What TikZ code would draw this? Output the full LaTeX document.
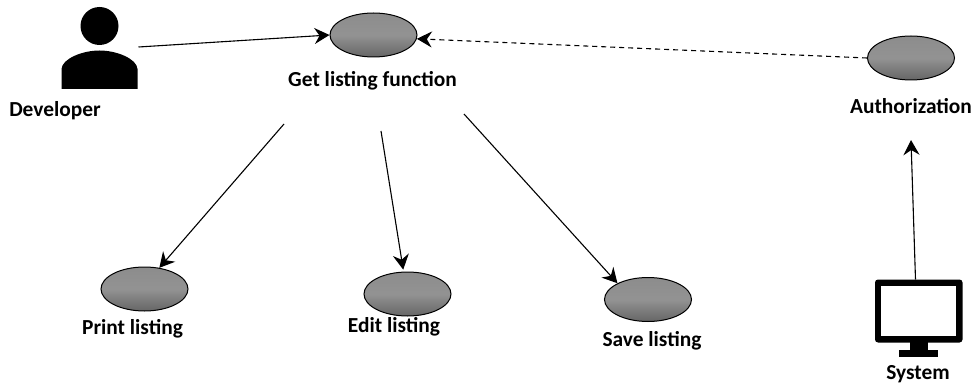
\documentclass[tikz,border=0pt]{standalone}
\usepackage{fontspec}
\setmainfont{Carlito}
\usetikzlibrary{arrows.meta,shapes.geometric}
\tikzset{
  usecase/.style={ellipse,draw=black,line width=1pt,minimum width=87pt,minimum height=44pt,inner sep=0pt,top color=gray!90!white,bottom color=gray!80!black,middle color=gray!85!white},
  lbl/.style={font=\fontsize{21.4pt}{24pt}\selectfont\bfseries,inner sep=0pt,text=black},
  conn/.style={draw=black,line width=1.1pt,-{Stealth[length=15pt,width=16pt,inset=5pt]}},
}
\begin{document}
\begin{tikzpicture}[x=1pt,y=-1pt]
\useasboundingbox (0,0) rectangle (975,385);
% use cases
\node[usecase] (main) at (373.5,35) {};
\node[usecase] (auth) at (911,58) {};
\node[usecase] (print) at (144.5,289) {};
\node[usecase] (edit) at (407.5,294) {};
\node[usecase] (save) at (648,299.5) {};
% labels
\node[lbl] (ldev) at (55,111) {Developer};
\node[lbl] (lmain) at (372.5,81) {Get listing function};
\node[lbl] (lauth) at (911,106) {Authorization};
\node[lbl] (lprint) at (132.5,328.5) {Print listing};
\node[lbl] (ledit) at (394,327) {Edit listing};
\node[lbl] (lsave) at (652,340.5) {Save listing};
\node[lbl] (lsys) at (918,374) {System};
% developer icon
\fill[black] (99.5,26) circle (19);
\fill[black] (61.5,89) -- (61.5,69) .. controls (62,59) and (82,50.5) .. (99.5,50.5) .. controls (117,50.5) and (137,59) .. (137.5,69) -- (137.5,89) -- cycle;
% system icon
\fill[black,rounded corners=3pt] (875,279.5) rectangle (962.5,342.5);
\fill[white] (881,286) rectangle (956,336);
\fill[black] (910,342) rectangle (928,350);
\fill[black] (899,349.5) rectangle (938,356.5);
% connector free ends
\coordinate (cdev) at (138.5,47);
\coordinate (cprint) at (284,124);
\coordinate (cedit) at (381,131);
\coordinate (csave) at (464,114);
\coordinate (csys) at (915.5,279.5);
\coordinate (cauth) at (911,140);
% connectors
\draw[conn] (cdev) -- (main.west);
\draw[conn,dash pattern=on 5pt off 4pt] (auth.west) -- (main.-5);
\draw[conn] (cprint) -- (print.55);
\draw[conn,shorten >=2pt] (cedit) -- (edit.100);
\draw[conn] (csave) -- (save.152);
\draw[conn] (csys) -- (cauth);
\end{tikzpicture}
\end{document}
